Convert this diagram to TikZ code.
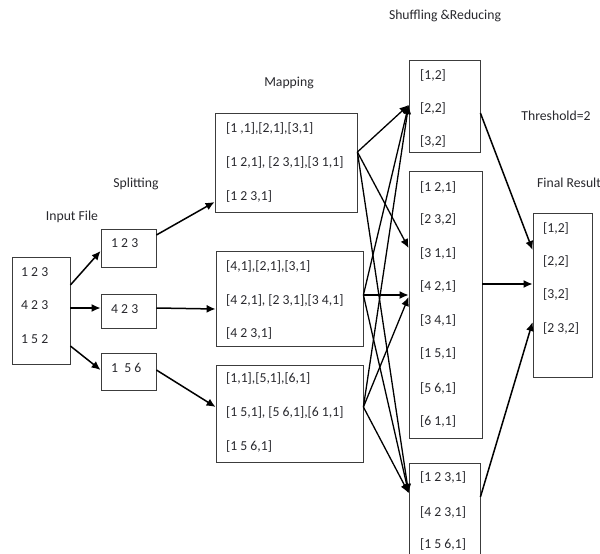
\documentclass[tikz,border=0pt]{standalone}
\usepackage{fontspec}
\setmainfont{Carlito}
\usetikzlibrary{arrows.meta}
\definecolor{txt}{RGB}{40,40,45}
\definecolor{edge}{RGB}{60,60,60}
\begin{document}
\begin{tikzpicture}[x=1pt,y=-1pt,font=\fontsize{13.7}{16}\selectfont,
 box/.style={draw=edge,line width=0.8pt,rectangle,inner sep=0pt},
 txtline/.style={anchor=west,inner sep=0pt,text height=9pt,text depth=0pt,text=txt},
 lbl/.style={inner sep=0pt,text height=9pt,text depth=2.5pt,text=txt},
 arr/.style={-{Latex[length=9pt,width=8pt]},line width=1.5pt},
 farr/.style={-{Latex[length=9pt,width=8pt]},line width=1.3pt}]
\useasboundingbox (0,0) rectangle (600,554);

% labels
\node[lbl] (lin) at (72,217) {Input File};
\node[lbl] (lsp) at (136,184) {Splitting};
\node[lbl] (lmap) at (289,83) {Mapping};
\node[lbl] (lshuf) at (445,16) {Shuffling \&Reducing};
\node[lbl] (lthr) at (556,117) {Threshold=2};
\node[lbl,anchor=west] (lfin) at (537,184) {Final Result};

% boxes
\node[box,minimum width=58pt,minimum height=107pt] (in) at (41,310.5) {};
\node[box,minimum width=55pt,minimum height=38pt] (sp1) at (128.5,248) {};
\node[box,minimum width=55pt,minimum height=34pt] (sp2) at (128.5,311) {};
\node[box,minimum width=55pt,minimum height=37pt] (sp3) at (128.5,371.5) {};
\node[box,minimum width=142pt,minimum height=99pt] (m1) at (286,162.5) {};
\node[box,minimum width=147pt,minimum height=95pt] (m2) at (289.5,298.5) {};
\node[box,minimum width=147pt,minimum height=97pt] (m3) at (289.5,413.5) {};
\node[box,minimum width=71pt,minimum height=92pt] (s1) at (444.5,106) {};
\node[box,minimum width=73pt,minimum height=267pt] (s2) at (445.5,304.5) {};
\node[box,minimum width=71pt,minimum height=92pt] (s3) at (444.5,509) {};
\node[box,minimum width=59pt,minimum height=164pt] (f) at (562.5,295) {};

% texts
\node[txtline] (ti1) at (21,272) {1 2 3};
\node[txtline] (ti2) at (21,305) {4 2 3};
\node[txtline] (ti3) at (21,339) {1 5 2};

\node[txtline] (tsp1) at (111,243) {1 2 3};
\node[txtline] (tsp2) at (111,309) {4 2 3};
\node[txtline] (tsp3) at (111,368) {1\ \ 5 6};

\node[txtline] (tm11) at (226,128) {[1 ,1],[2,1],[3,1]};
\node[txtline] (tm12) at (226,162) {[1 2,1], [2 3,1],[3 1,1]};
\node[txtline] (tm13) at (226,196) {[1 2 3,1]};
\node[txtline] (tm21) at (226,266) {[4,1],[2,1],[3,1]};
\node[txtline] (tm22) at (226,300) {[4 2,1], [2 3,1],[3 4,1]};
\node[txtline] (tm23) at (226,333) {[4 2 3,1]};
\node[txtline] (tm31) at (226,378) {[1,1],[5,1],[6,1]};
\node[txtline] (tm32) at (226,412) {[1 5,1], [5 6,1],[6 1,1]};
\node[txtline] (tm33) at (226,446) {[1 5 6,1]};

\node[txtline] (ts11) at (420,75) {[1,2]};
\node[txtline] (ts12) at (420,108) {[2,2]};
\node[txtline] (ts13) at (420,141) {[3,2]};

\node[txtline] (ts21) at (420,187) {[1 2,1]};
\node[txtline] (ts22) at (420,219) {[2 3,2]};
\node[txtline] (ts23) at (420,253) {[3 1,1]};
\node[txtline] (ts24) at (420,286) {[4 2,1]};
\node[txtline] (ts25) at (420,320) {[3 4,1]};
\node[txtline] (ts26) at (420,353) {[1 5,1]};
\node[txtline] (ts27) at (420,388) {[5 6,1]};
\node[txtline] (ts28) at (420,421) {[6 1,1]};

\node[txtline] (ts31) at (420,477) {[1 2 3,1]};
\node[txtline] (ts32) at (420,512) {[4 2 3,1]};
\node[txtline] (ts33) at (420,544) {[1 5 6,1]};

\node[txtline] (tf1) at (543,228) {[1,2]};
\node[txtline] (tf2) at (543,261) {[2,2]};
\node[txtline] (tf3) at (543,294) {[3,2]};
\node[txtline] (tf4) at (543,328) {[2 3,2]};

% input -> splitting
\draw[arr] ([yshift=25.5]in.east) -- ([yshift=-3]sp1.west);
\draw[arr] ([yshift=2.5]in.east) -- ([yshift=3]sp2.west);
\draw[arr] ([yshift=-35.5]in.east) -- ([yshift=1.5]sp3.west);

% splitting -> mapping
\draw[arr] ([yshift=13]sp1.east) -- ([yshift=-39.5]m1.west);
\draw[arr] ([yshift=3]sp2.east) -- ([yshift=-10.5]m2.west);
\draw[arr] ([yshift=1.5]sp3.east) -- ([yshift=6.5]m3.west);

% mapping -> shuffling
\draw[farr] ([yshift=10.5]m1.east) -- ([yshift=1]s1.west);
\draw[farr] ([yshift=10.5]m1.east) -- ([yshift=56.5]s2.west);
\draw[farr] ([yshift=10.5]m1.east) -- ([yshift=16]s3.west);
\draw[farr] ([yshift=3.5]m2.east) -- ([yshift=1]s1.west);
\draw[farr] ([yshift=3.5]m2.east) -- ([yshift=9.5]s2.west);
\draw[farr] ([yshift=3.5]m2.east) -- ([yshift=16]s3.west);
\draw[farr] ([yshift=6.5]m3.east) -- ([yshift=1]s1.west);
\draw[farr] ([yshift=6.5]m3.east) -- ([yshift=7.5]s2.west);
\draw[farr] ([yshift=6.5]m3.east) -- ([yshift=16]s3.west);

% shuffling -> final
\draw[arr] ([yshift=-7]s1.east) -- ([yshift=45]f.west);
\draw[arr] ([yshift=20.5]s2.east) -- ([yshift=11]f.west);
\draw[arr] ([yshift=12]s3.east) -- ([yshift=-27]f.west);
\end{tikzpicture}
\end{document}
